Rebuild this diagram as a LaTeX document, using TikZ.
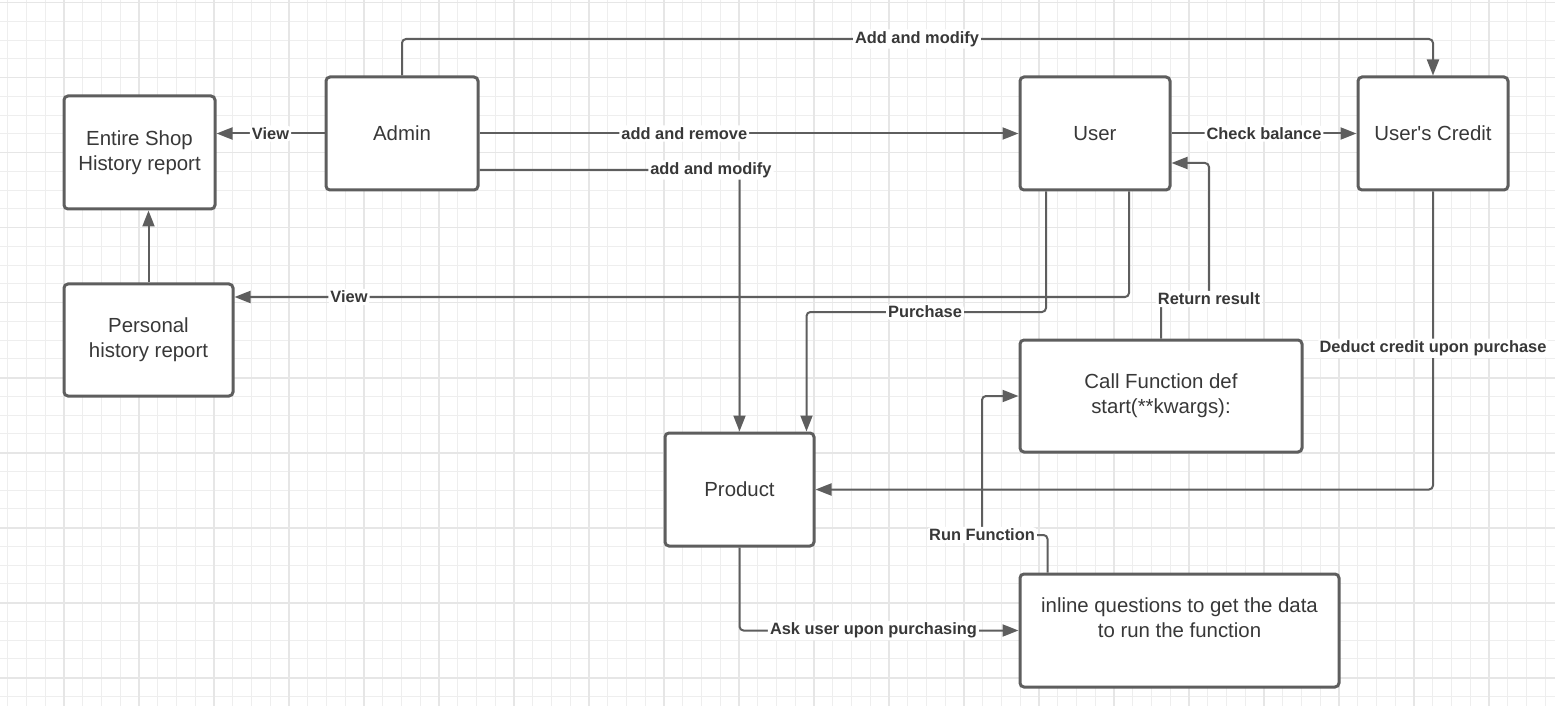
\documentclass[tikz,border=0pt]{standalone}
\usepackage{fontspec}
\setmainfont{Liberation Sans}
\usetikzlibrary{arrows.meta}
\definecolor{linegray}{RGB}{94,94,94}
\definecolor{textgray}{RGB}{56,56,56}
\definecolor{gridminor}{RGB}{238,238,238}
\definecolor{gridmajor}{RGB}{230,230,230}
\begin{document}
\begin{tikzpicture}[x=0.5pt,y=-0.5pt,>={Triangle[length=8pt,width=6pt]},
    box/.style={draw=linegray,line width=1.5pt,rounded corners=2pt,fill=white,text=textgray,align=center,inner sep=0pt,font=\fontsize{10.2}{12.5}\selectfont},
    conn/.style={draw=linegray,line width=1pt,rounded corners=2pt},
    lbl/.style={fill=white,text=textgray,inner sep=1pt,font=\fontsize{8.2}{10}\selectfont\bfseries}]
    \useasboundingbox (0,0) rectangle (1555,706);
    \fill[white] (0,0) rectangle (1555,706);
    \foreach \i in {0,...,82} \draw[gridminor,line width=0.5pt] ({7.75+18.75*\i},0) -- ({7.75+18.75*\i},706);
    \foreach \i in {0,...,37} \draw[gridminor,line width=0.5pt] (0,{2.7+18.75*\i}) -- (1555,{2.7+18.75*\i});
    \foreach \i in {0,...,19} \draw[gridmajor,line width=0.8pt] ({64+75*\i},0) -- ({64+75*\i},706);
    \foreach \i in {0,...,9} \draw[gridmajor,line width=0.8pt] (0,{2.7+75*\i}) -- (1555,{2.7+75*\i});
    \node[box,minimum width=75.5pt,minimum height=56.5pt] (shop) at (139.5,152.5) {Entire Shop\\History report};
    \node[box,minimum width=76pt,minimum height=56.5pt] (admin) at (402,133.5) {Admin};
    \node[box,minimum width=75pt,minimum height=56.5pt] (user) at (1095,133.5) {User};
    \node[box,minimum width=75pt,minimum height=56.5pt] (credit) at (1433,133.5) {User\textquotesingle s Credit};
    \node[box,minimum width=84.5pt,minimum height=56pt] (personal) at (148.5,340) {Personal\\history report};
    \node[box,minimum width=74.5pt,minimum height=56.5pt] (product) at (739.5,489.5) {Product};
    \node[box,minimum width=141pt,minimum height=56pt] (call) at (1161,396) {Call Function def\\start(**kwargs):};
    \node[box,minimum width=159.5pt,minimum height=56.5pt] (inline) at (1179.5,630.5) {inline questions to get the data\\to run the function\\~};
    \coordinate (amtop) at (917,39);
    \coordinate (purch) at (925,312);
    \coordinate (ret) at (1209,299);
    \coordinate (run) at (982,535);
    \draw[conn,->] (admin.west) -- (admin.west -| shop.east) node[lbl,midway] {View};
    \draw[conn,->] (admin.north) |- (amtop) node[lbl] {Add and modify} -| (credit.north);
    \draw[conn,->] (admin.east) -- (admin.east -| user.west) node[lbl,pos=0.38] {add and remove};
    \draw[conn,->] ([yshift=-18.25pt]admin.east) -| (product.north) node[lbl,pos=0.445] {add and modify};
    \draw[conn,->] ([xshift=17pt]user.south) |- ([yshift=21.5pt]personal.east) node[lbl,pos=0.936] {View};
    \draw[conn,->] ([xshift=-24.5pt]user.south) |- (purch) node[lbl] {Purchase} -| ([xshift=-4.5pt]product.north east);
    \draw[conn,->] (user.east) -- (credit.west) node[lbl,midway] {Check balance};
    \draw[conn,->] (call.north) |- (ret) node[lbl] {Return result} |- ([yshift=-14.75pt]user.east);
    \draw[conn,->] ([xshift=-66pt]inline.north) |- (run) node[lbl] {Run Function} |- (call.west);
    \draw[conn,->] (credit.south) |- (product.east) node[lbl,pos=0.263] {Deduct credit upon purchase};
    \draw[conn,->] (product.south) |- (inline.west) node[lbl,pos=0.74] {Ask user upon purchasing};
    \draw[conn,->] (personal.north) -- (personal.north |- shop.south);
\end{tikzpicture}
\end{document}
